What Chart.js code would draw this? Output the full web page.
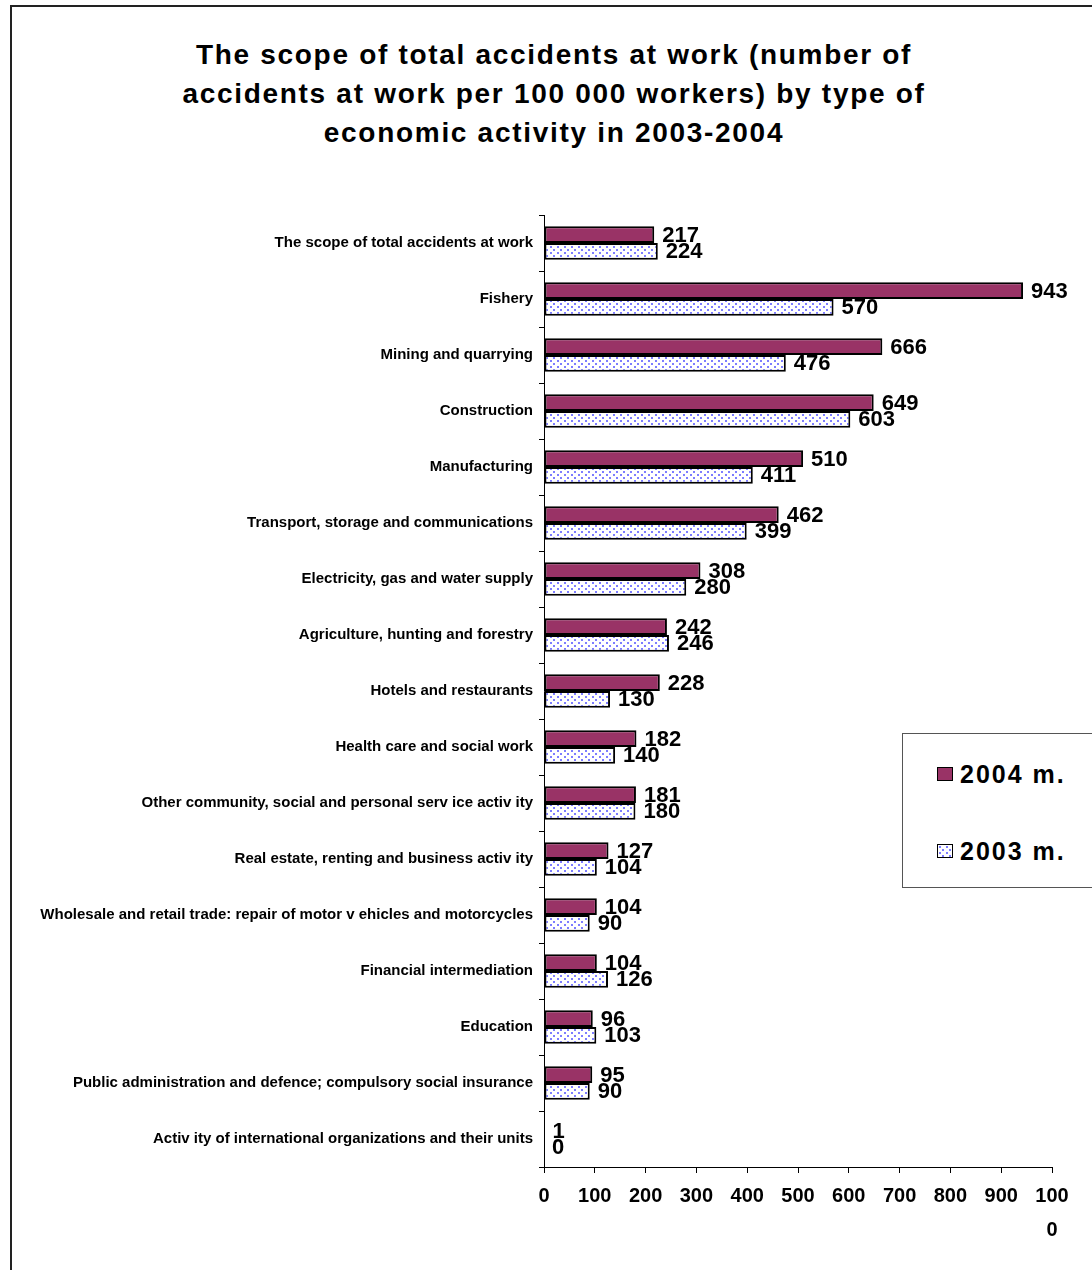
<!DOCTYPE html>
<html>
<head>
<meta charset="utf-8">
<script src="https://cdn.jsdelivr.net/npm/chart.js@4"></script>
<style>
  html, body { margin: 0; padding: 0; background: #fff; overflow: hidden; }
  body { width: 1092px; height: 1270px; position: relative; font-family: "Liberation Sans", Arial, sans-serif; }
  #frame { position: absolute; left: 10px; top: 5px; width: 1100px; height: 1300px; border: 2px solid #222; box-sizing: border-box; }
  #title { position: absolute; left: 54px; width: 1000px; top: 35px; text-align: center; font-weight: bold; font-size: 28px; line-height: 39px; letter-spacing: 1.7px; color: #000; }
  #wrap { position: absolute; left: 10px; top: 5px; width: 1082px; height: 1265px; }
  #legend { position: absolute; left: 902px; top: 733px; width: 200px; height: 155px; border: 1px solid #555; box-sizing: border-box; background: #fff; }
  .item { position: absolute; left: 34px; font-weight: bold; font-size: 25px; line-height: 28px; letter-spacing: 2px; }
  .sw { display: inline-block; width: 14px; height: 12px; border: 1.5px solid #000; vertical-align: 2px; margin-right: 7px; }
</style>
</head>
<body>
<div id="frame"></div>
<div id="title">The scope of total accidents at work (number of<br>accidents at work per 100 000 workers) by type of<br>economic activity in 2003-2004</div>
<div id="wrap"><canvas id="chart"></canvas></div>
<div id="legend">
  <div class="item" style="top:26px"><span class="sw" style="background:#993366"></span>2004 m.</div>
  <div class="item" style="top:103px"><span class="sw" id="dotSwatch"></span>2003 m.</div>
</div>
<script>
const activities = [
    "The scope of total accidents at work",
    "Fishery",
    "Mining and quarrying",
    "Construction",
    "Manufacturing",
    "Transport, storage and communications",
    "Electricity, gas and water supply",
    "Agriculture, hunting and forestry",
    "Hotels and restaurants",
    "Health care and social work",
    "Other community, social and personal serv ice activ ity",
    "Real estate, renting and business activ ity",
    "Wholesale and retail trade: repair of motor v ehicles and motorcycles",
    "Financial intermediation",
    "Education",
    "Public administration and defence; compulsory social insurance",
    "Activ ity of international organizations and their units"
];
const rate2004 = [217, 943, 666, 649, 510, 462, 308, 242, 228, 182, 181, 127, 104, 104, 96, 95, 1];
const rate2003 = [224, 570, 476, 603, 411, 399, 280, 246, 130, 140, 180, 104, 90, 126, 103, 90, 0];
const xTicks = [0, 100, 200, 300, 400, 500, 600, 700, 800, 900, 1000];

const FONT = "'Liberation Sans', Arial, sans-serif";

// white fill with small blue dots, like the old office pattern fill
function dotPattern() {
    let c = document.createElement("canvas");
    c.width = 7; c.height = 6;
    let g = c.getContext("2d");
    g.fillStyle = "#fff";
    g.fillRect(0, 0, 7, 6);
    g.fillStyle = "#7d7dff";
    g.fillRect(1, 1, 2, 2);
    g.fillRect(4, 4, 2, 2);
    return c;
}
const dots = dotPattern();
document.getElementById("dotSwatch").style.background = "url(" + dots.toDataURL() + ")";

// value labels to the right of each bar
const valueLabels = {
    id: "valueLabels",
    afterDatasetsDraw(chart) {
        let ctx = chart.ctx;
        ctx.save();
        ctx.font = "bold 22px " + FONT;
        ctx.fillStyle = "#000";
        ctx.textBaseline = "middle";
        chart.data.datasets.forEach((ds, i) => {
            chart.getDatasetMeta(i).data.forEach((bar, j) => {
                ctx.fillText(String(ds.data[j]), bar.x + 8, bar.y + 1);
            });
        });
        ctx.restore();
    }
};

const ctx = document.getElementById("chart").getContext("2d");
const myChart = new Chart(ctx, {
    type: "bar",
    data: {
        labels: activities,
        datasets: [
            {
                label: "2004 m.",
                data: rate2004,
                backgroundColor: "#993366",
                borderColor: "#000",
                borderWidth: 2,
                borderSkipped: false
            },
            {
                label: "2003 m.",
                data: rate2003,
                backgroundColor: ctx.createPattern(dots, "repeat"),
                borderColor: "#000",
                borderWidth: 2,
                borderSkipped: false
            }
        ]
    },
    options: {
        indexAxis: "y",
        responsive: true,
        maintainAspectRatio: false,
        animation: false,
        categoryPercentage: 0.6,
        barPercentage: 1,
        layout: { padding: { top: 210, right: 40, left: 0, bottom: 0 } },
        plugins: {
            legend: { display: false },
            title: { display: false },
            tooltip: { enabled: false }
        },
        scales: {
            x: {
                min: 0,
                max: 1000,
                afterBuildTicks: s => { s.ticks = xTicks.map(v => ({ value: v })); },
                border: { color: "#000", width: 1 },
                grid: { drawOnChartArea: false, color: "#000", tickLength: 6 },
                ticks: {
                    color: "#000",
                    font: { family: FONT, size: 20, weight: "bold", lineHeight: 1.7 },
                    padding: 6,
                    maxRotation: 0,
                    callback: v => v === 1000 ? ["100", "0"] : String(v)
                },
                afterFit: s => { s.height = 103; }
            },
            y: {
                border: { color: "#000", width: 1 },
                grid: { drawOnChartArea: false, color: "#000", tickLength: 5, offset: true },
                ticks: {
                    color: "#000",
                    font: { family: FONT, size: 15, weight: "bold" },
                    padding: 6,
                    autoSkip: false
                },
                afterFit: s => { s.width = 534; }
            }
        }
    },
    plugins: [valueLabels]
});
</script>
</body>
</html>
